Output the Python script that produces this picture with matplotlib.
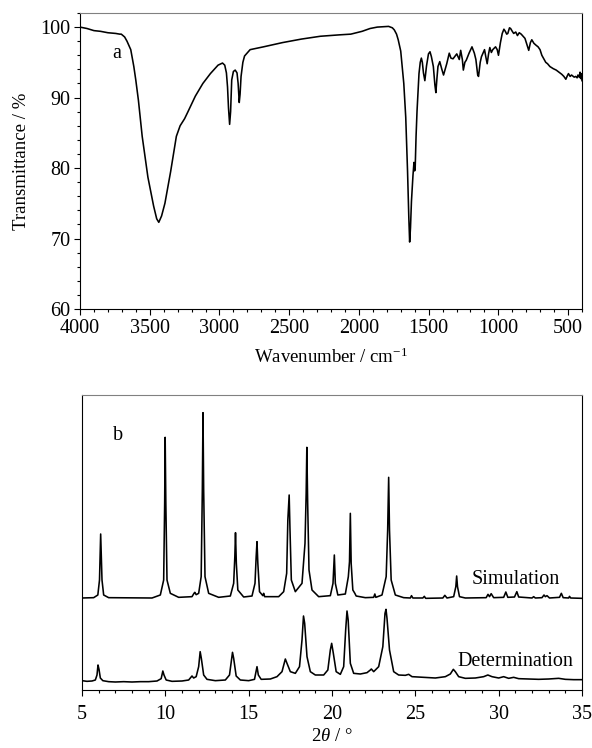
import matplotlib
matplotlib.use("Agg")
import matplotlib.pyplot as plt
from matplotlib.ticker import MultipleLocator

plt.rcParams['font.family'] = ['Liberation Serif', 'DejaVu Serif']
plt.rcParams['mathtext.fontset'] = 'custom'
plt.rcParams['mathtext.rm'] = 'Liberation Serif'
plt.rcParams['mathtext.it'] = 'Liberation Serif:italic'

# --- (a) IR spectrum ---
ir_wn = [4000, 3950, 3900, 3853, 3800, 3744, 3715, 3704, 3680, 3663,
         3636, 3614, 3600, 3581, 3554, 3513, 3472, 3450, 3435, 3415,
         3391, 3350, 3309, 3282, 3250, 3228, 3173, 3119, 3065, 3010,
         2978, 2962, 2950, 2942, 2935, 2927, 2920, 2912, 2900, 2887,
         2874, 2866, 2858, 2852, 2845, 2832, 2820, 2780, 2684, 2548,
         2412, 2276, 2139, 2058, 1977, 1920, 1868, 1787, 1760, 1746,
         1730, 1718, 1700, 1678, 1664, 1651, 1642, 1636, 1630, 1623,
         1612, 1605, 1600, 1596, 1590, 1583, 1569, 1560, 1552, 1545,
         1537, 1527, 1515, 1501, 1490, 1480, 1466, 1455, 1448, 1440,
         1433, 1420, 1405, 1393, 1370, 1352, 1340, 1325, 1298, 1280,
         1270, 1258, 1251, 1240, 1230, 1210, 1189, 1172, 1161, 1148,
         1142, 1130, 1121, 1099, 1090, 1080, 1070, 1061, 1050, 1040,
         1020, 1008, 999, 985, 972, 960, 950, 940, 932, 920,
         912, 900, 890, 875, 863, 850, 836, 822, 809, 795,
         782, 770, 760, 745, 728, 715, 701, 688, 674, 660,
         647, 630, 606, 585, 565, 545, 530, 516, 505, 497,
         485, 475, 456, 445, 435, 429, 420, 414, 410, 405,
         400]
ir_t = [100.0, 99.8, 99.5, 99.4, 99.2, 99.1, 99.0, 99.0, 98.6, 98.0,
        96.8, 94.4, 92.5, 89.6, 84.5, 78.7, 74.6, 72.8, 72.3, 73.2,
        75.0, 79.5, 84.5, 86.0, 87.0, 87.9, 90.2, 92.0, 93.4, 94.6,
        94.9, 94.6, 93.5, 91.5, 88.5, 86.2, 88.0, 92.5, 93.7, 93.9,
        93.5, 92.0, 89.3, 90.5, 93.0, 95.0, 95.9, 96.8, 97.2, 97.8,
        98.3, 98.7, 98.9, 99.0, 99.4, 99.8, 100.0, 100.1, 99.9, 99.6,
        99.0, 98.2, 96.6, 92.0, 87.2, 79.5, 73.0, 69.5, 71.5, 75.3,
        79.0, 80.8, 79.6, 80.2, 84.5, 88.1, 93.4, 95.0, 95.6, 95.0,
        93.5, 92.4, 94.5, 96.2, 96.5, 95.8, 94.4, 91.8, 90.7, 92.8,
        94.4, 95.1, 94.0, 93.2, 94.8, 96.3, 95.6, 95.5, 96.2, 95.4,
        96.7, 95.4, 93.9, 95.0, 95.3, 96.3, 97.2, 96.3, 95.4, 93.2,
        93.0, 95.0, 95.8, 96.8, 95.8, 94.8, 96.2, 97.1, 96.4, 96.8,
        97.2, 96.8, 96.0, 97.8, 99.1, 99.7, 99.4, 99.0, 99.1, 99.9,
        99.8, 99.4, 99.1, 99.3, 98.8, 99.2, 99.0, 98.7, 98.4, 97.5,
        96.7, 97.8, 98.2, 97.7, 97.4, 97.2, 96.8, 96.0, 95.5, 95.0,
        94.8, 94.4, 94.1, 93.9, 93.6, 93.3, 93.0, 92.6, 93.1, 93.4,
        93.0, 93.2, 92.9, 93.0, 92.8, 93.2, 92.9, 93.6, 92.7, 93.4,
        92.4]

# --- (b) XRD patterns (2theta, relative intensity) ---
sim_x = [5.0, 5.7, 5.95, 6.05, 6.12, 6.2, 6.3, 6.6,
         9.2, 9.7, 9.9, 9.96, 9.99, 10.03, 10.1, 10.3, 10.8,
         11.6, 11.72, 11.77, 11.85, 12.0, 12.15, 12.22, 12.26, 12.3, 12.38, 12.6, 13.2,
         13.9, 14.1, 14.17, 14.21, 14.26, 14.35, 14.7,
         15.2, 15.38, 15.45, 15.5, 15.55, 15.65, 15.85, 15.9, 15.96,
         16.8, 17.1, 17.28, 17.35, 17.43, 17.48, 17.56, 17.8, 18.2, 18.38,
         18.45, 18.49, 18.54, 18.62, 18.8, 19.2,
         19.9, 20.06, 20.14, 20.2, 20.35,
         20.8, 20.98, 21.05, 21.1, 21.15, 21.25, 21.37, 21.45, 22.0,
         22.5, 22.57, 22.63,
         23.0, 23.25, 23.34, 23.40, 23.45, 23.55, 23.8, 24.3,
         24.7, 24.77, 24.85, 25.45, 25.54, 25.62, 26.65, 26.77, 26.9,
         27.3, 27.43, 27.48, 27.53, 27.65, 28.0,
         29.25, 29.36, 29.45, 29.55, 29.7, 30.3, 30.43, 30.55, 30.95, 31.09,
         31.2, 32.0, 32.1, 32.2, 32.6, 32.72, 32.8, 32.9, 33.05, 33.65,
         33.76, 33.87, 34.2, 34.25, 34.32, 35.0]
sim_i = [276, 277, 285, 330, 468, 330, 285, 277,
         276, 285, 330, 560, 758, 560, 330, 290, 278,
         280, 290, 293, 286, 290, 340, 600, 832, 600, 340, 290, 278,
         282, 320, 400, 472, 380, 300, 279,
         282, 320, 400, 445, 380, 295, 283, 290, 280,
         280, 295, 350, 510, 585, 480, 330, 295, 320, 440,
         590, 728, 560, 360, 300, 280,
         283, 320, 405, 320, 285,
         288, 340, 385, 530, 380, 300, 290, 282, 277,
         278, 288, 278,
         285, 340, 480, 638, 480, 330, 285, 277,
         276, 283, 276, 276, 281, 275, 276, 284, 276,
         280, 310, 342, 310, 280, 276,
         277, 287, 280, 289, 277, 278, 294, 278, 279, 295,
         279, 276, 280, 276, 277, 285, 280, 283, 276, 278,
         290, 277, 276, 281, 276, 275]

det_x = [5.0, 5.3, 5.6, 5.8, 5.9, 5.96, 6.02, 6.1, 6.25, 6.6,
         7.0, 7.5, 8.0, 8.5, 9.0, 9.5, 9.75, 9.85, 9.92, 10.05,
         10.4, 11.0, 11.4, 11.6, 11.7, 11.85, 12.0, 12.09, 12.16, 12.3,
         12.5, 13.0, 13.6, 13.85, 14.03, 14.1, 14.25, 14.5, 15.0, 15.35,
         15.5, 15.58, 15.75, 16.3, 16.7, 17.0, 17.2, 17.3, 17.5, 17.8,
         18.05, 18.2, 18.29, 18.36, 18.5, 18.7, 19.0, 19.5, 19.75, 19.9,
         19.98, 20.08, 20.25, 20.5, 20.7, 20.82, 20.9, 20.97, 21.1, 21.3,
         21.7, 22.1, 22.3, 22.36, 22.5, 22.8, 23.05, 23.18, 23.24, 23.3,
         23.45, 23.7, 24.0, 24.4, 24.6, 24.8, 25.5, 26.2, 26.8, 27.1,
         27.28, 27.4, 27.6, 28.0, 28.6, 29.1, 29.35, 29.6, 30.0, 30.3,
         30.6, 30.9, 31.2, 31.8, 32.4, 33.0, 33.6, 34.0, 34.5, 35.0]
det_i = [28, 26, 27, 30, 45, 75, 62, 36, 28, 25,
         24, 25, 24, 25, 25, 27, 34, 57, 45, 30,
         26, 27, 30, 42, 36, 40, 70, 115, 95, 45,
         32, 28, 30, 45, 113, 95, 42, 30, 28, 32,
         70, 45, 32, 33, 40, 55, 93, 80, 55, 50,
         70, 150, 222, 200, 100, 55, 45, 45, 60, 120,
         140, 110, 55, 47, 70, 180, 237, 210, 80, 50,
         48, 52, 60, 63, 55, 70, 130, 230, 242, 215,
         120, 55, 45, 44, 47, 40, 38, 36, 40, 48,
         62, 55, 40, 35, 36, 40, 45, 40, 36, 40,
         35, 38, 34, 33, 32, 33, 35, 32, 31, 31]

fig = plt.figure(figsize=(5.92, 7.48), dpi=100)
ax1 = fig.add_axes([80 / 592, 1 - 309 / 748, 502 / 592, 296 / 748])
ax2 = fig.add_axes([82 / 592, 1 - 690 / 748, 500 / 592, 295 / 748])

tfs = 14.5   # tick labels
lfs = 13.5   # axis labels
afs = 14.5   # in-plot annotations

# top panel
ax1.plot(ir_wn, ir_t, color='black', lw=1.15)
ax1.set_xlim(4000, 400)
ax1.set_ylim(60, 102)
ax1.xaxis.set_major_locator(MultipleLocator(500))
ax1.xaxis.set_minor_locator(MultipleLocator(100))
ax1.yaxis.set_major_locator(MultipleLocator(10))
ax1.yaxis.set_minor_locator(MultipleLocator(2))
ax1.set_xlabel('Wavenumber / cm$^{-1}$', fontsize=lfs, labelpad=7)
ax1.set_ylabel('Transmittance / %', fontsize=lfs, labelpad=7)
ax1.text(3740, 96.3, 'a', fontsize=afs, ha='center', va='center')

# bottom panel
ax2.plot(sim_x, sim_i, color='black', lw=1.15)
ax2.plot(det_x, det_i, color='black', lw=1.15)
ax2.set_xlim(5, 35)
ax2.set_ylim(0, 885)
ax2.xaxis.set_major_locator(MultipleLocator(5))
ax2.xaxis.set_minor_locator(MultipleLocator(1))
ax2.set_yticks([])
ax2.set_xlabel(r'$\mathit{2\theta}$ / °', fontsize=lfs, labelpad=3)
ax2.text(7.14, 765, 'b', fontsize=afs, ha='center', va='center')
ax2.text(31.0, 330, 'Simulation', fontsize=afs, ha='center', va='center')
ax2.text(31.0, 85, 'Determination', fontsize=afs, ha='center', va='center')

for ax in (ax1, ax2):
    ax.tick_params(which='major', direction='out', length=4, width=0.8,
                   labelsize=tfs, pad=3, top=False, right=False)
    ax.tick_params(which='minor', direction='out', length=2.5, width=0.8,
                   top=False, right=False)
    for s in ax.spines.values():
        s.set_linewidth(0.8)
    ax.spines['top'].set_color('0.5')

ax2.tick_params(axis='x', which='major', pad=7)

fig.savefig('out.png', dpi=100)
